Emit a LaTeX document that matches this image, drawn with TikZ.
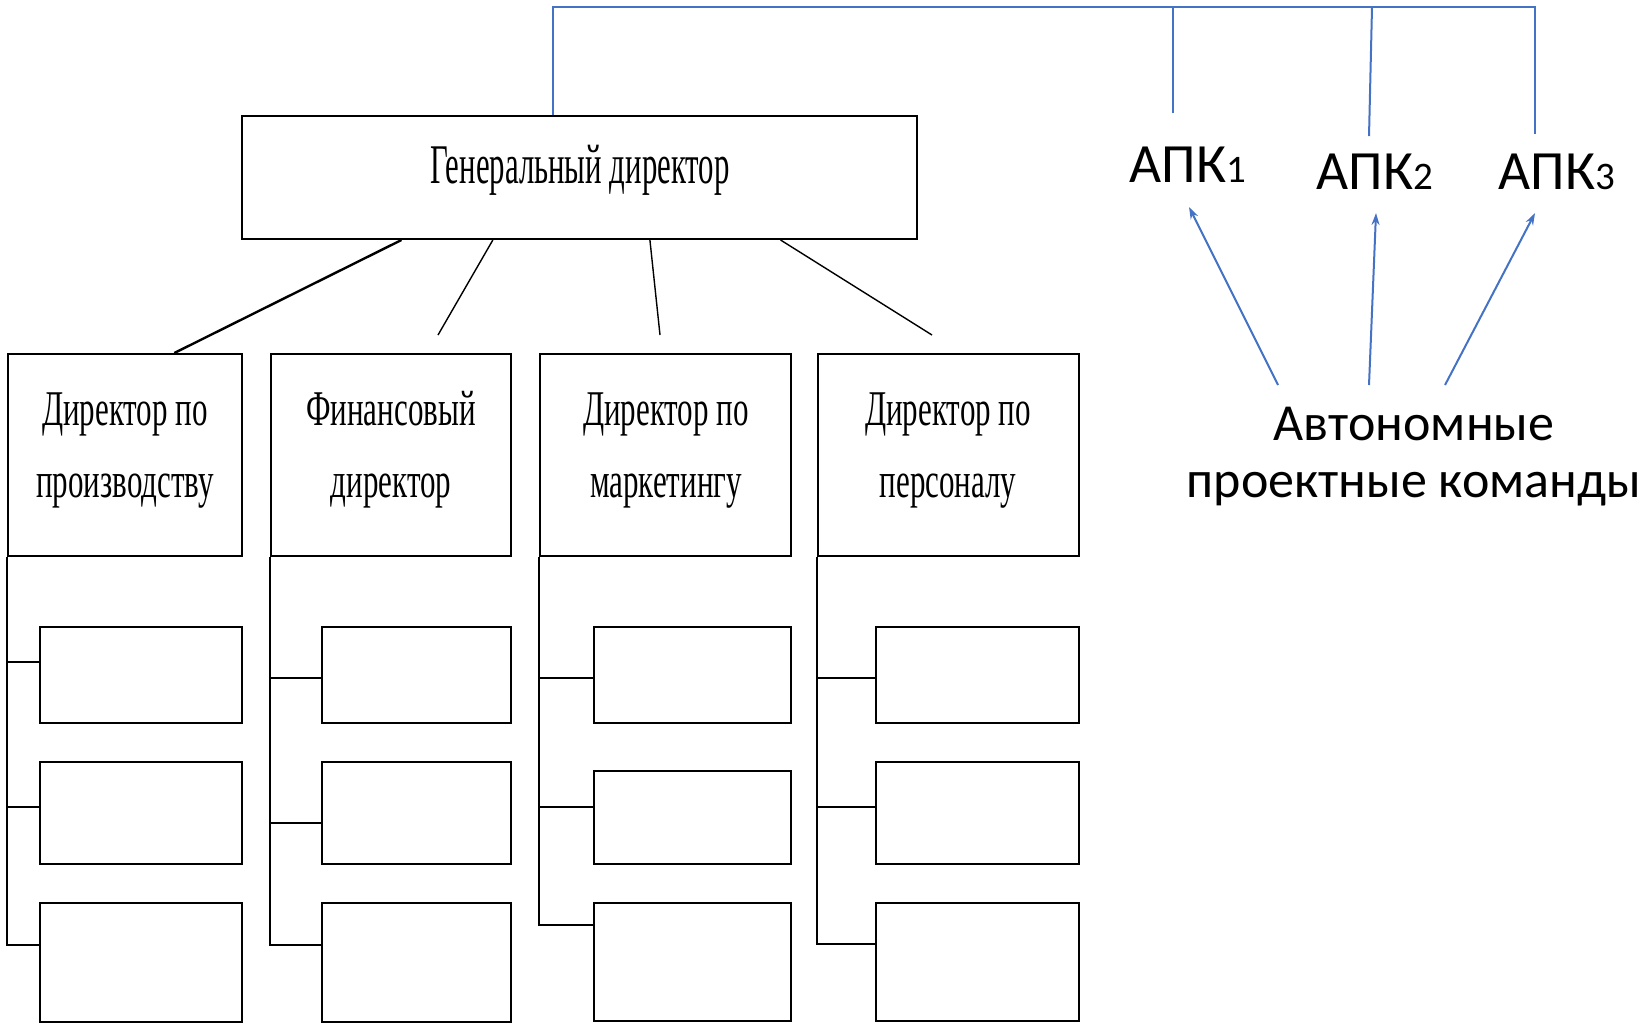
\documentclass[tikz,border=0pt]{standalone}
\usepackage{fontspec}
\setmainfont{Carlito}
\newfontfamily\genfont[FakeStretch=0.55]{Liberation Serif}
\newfontfamily\dirfont[FakeStretch=0.62]{Liberation Serif}
\usetikzlibrary{fit,calc,arrows.meta}
\definecolor{apkblue}{RGB}{68,114,196}
\newcommand\dg[1]{{\fontsize{19.5}{20}\selectfont #1}}
\begin{document}
\begin{tikzpicture}[x=0.5pt,y=-0.5pt,
 box/.style={draw=black, line width=1pt, inner sep=0pt, rectangle},
 gentext/.style={font=\genfont\fontsize{28}{30}\selectfont, inner sep=0pt, anchor=base},
 dirtext/.style={font=\dirfont\fontsize{25}{27}\selectfont, inner sep=0pt, anchor=base},
 apk/.style={font=\fontsize{27.7}{30}\selectfont, inner sep=0pt, anchor=base},
 apt/.style={font=\fontsize{26}{28}\selectfont, inner sep=0pt, anchor=base},
 blueline/.style={draw=apkblue, line width=1pt},
 bluearrow/.style={blueline, -{Stealth[length=6pt,width=4pt]}},
 thicklink/.style={line width=1.2pt},
 thinlink/.style={line width=0.7pt},
 tree/.style={line width=1pt},
]
\useasboundingbox (0,0) rectangle (1652,1025);

% general director
\node[box, fit={(242,116) (917,239)}] (gen) {};
\node[gentext] (gent) at (580,183) {Генеральный директор};

% directors
\node[box, fit={(8,354) (242,556)}] (d1) {};
\node[box, fit={(271,354) (511,556)}] (d2) {};
\node[box, fit={(540,354) (791,556)}] (d3) {};
\node[box, fit={(818,354) (1079,556)}] (d4) {};

\node[dirtext] (d1a) at (125,425) {Директор по};
\node[dirtext] (d1b) at (125,497) {производству};
\node[dirtext] (d2a) at (391,425) {Финансовый};
\node[dirtext] (d2b) at (391,497) {директор};
\node[dirtext] (d3a) at (666,425) {Директор по};
\node[dirtext] (d3b) at (666,497) {маркетингу};
\node[dirtext] (d4a) at (948,425) {Директор по};
\node[dirtext] (d4b) at (948,497) {персоналу};

% sub boxes
\node[box, fit={(40,627) (242,723)}] (s11) {};
\node[box, fit={(40,762) (242,864)}] (s12) {};
\node[box, fit={(40,903) (242,1022)}] (s13) {};
\node[box, fit={(322,627) (511,723)}] (s21) {};
\node[box, fit={(322,762) (511,864)}] (s22) {};
\node[box, fit={(322,903) (511,1022)}] (s23) {};
\node[box, fit={(594,627) (791,723)}] (s31) {};
\node[box, fit={(594,771) (791,864)}] (s32) {};
\node[box, fit={(594,903) (791,1021)}] (s33) {};
\node[box, fit={(876,627) (1079,723)}] (s41) {};
\node[box, fit={(876,762) (1079,864)}] (s42) {};
\node[box, fit={(876,903) (1079,1021)}] (s43) {};

% tree connectors
\draw[tree] (d1.south west) |- ($(s11.north west)!0.365!(s11.south west)$);
\draw[tree] (d1.south west) |- ($(s12.north west)!0.44!(s12.south west)$);
\draw[tree] (d1.south west) |- ($(s13.north west)!0.353!(s13.south west)$);
\draw[tree] (d2.south west) |- ($(s21.north west)!0.53!(s21.south west)$);
\draw[tree] (d2.south west) |- ($(s22.north west)!0.60!(s22.south west)$);
\draw[tree] (d2.south west) |- ($(s23.north west)!0.353!(s23.south west)$);
\draw[tree] (d3.south west) |- ($(s31.north west)!0.53!(s31.south west)$);
\draw[tree] (d3.south west) |- ($(s32.north west)!0.39!(s32.south west)$);
\draw[tree] (d3.south west) |- ($(s33.north west)!0.19!(s33.south west)$);
\draw[tree] (d4.south west) |- ($(s41.north west)!0.53!(s41.south west)$);
\draw[tree] (d4.south west) |- ($(s42.north west)!0.44!(s42.south west)$);
\draw[tree] (d4.south west) |- ($(s43.north west)!0.353!(s43.south west)$);

% general -> directors
\coordinate (e2) at (438,335);
\coordinate (e3) at (660,335);
\coordinate (e4) at (932,335);
\draw[thicklink] ($(gen.south west)!0.237!(gen.south east)$) -- ($(d1.north west)!0.709!(d1.north east)$);
\draw[thinlink] ($(gen.south west)!0.372!(gen.south east)$) -- (e2);
\draw[thinlink] ($(gen.south west)!0.604!(gen.south east)$) -- (e3);
\draw[thinlink] ($(gen.south west)!0.797!(gen.south east)$) -- (e4);

% APK labels
\node[apk] (a1) at (1188,182) {АПК\dg{1}};
\node[apk] (a2) at (1375,189) {АПК\dg{2}};
\node[apk] (a3) at (1557,189) {АПК\dg{3}};

\node[apt] (teamA) at (1414,440) {Автономные};
\node[apt] (teamB) at (1414,497) {проектные команды};

% blue top bracket
\coordinate (b0) at (553,7);
\coordinate (b1) at (1173,7);
\coordinate (b2) at (1372,7);
\coordinate (b3) at (1535,7);
\coordinate (b1e) at (1173,113);
\coordinate (b2e) at (1369,136);
\coordinate (b3e) at (1535,134);
\draw[blueline] (b0 |- gen.north) -- (b0) -- (b3) -- (b3e);
\draw[blueline] (b1) -- (b1e);
\draw[blueline] (b2) -- (b2e);

% arrows from teams to APK
\coordinate (t1) at (1278,385);
\coordinate (t2) at (1369,385);
\coordinate (t3) at (1445,385);
\coordinate (p1) at (1189,207);
\coordinate (p2) at (1376,213);
\coordinate (p3) at (1535,213);
\draw[bluearrow] (t1) -- (p1);
\draw[bluearrow] (t2) -- (p2);
\draw[bluearrow] (t3) -- (p3);
\end{tikzpicture}
\end{document}
